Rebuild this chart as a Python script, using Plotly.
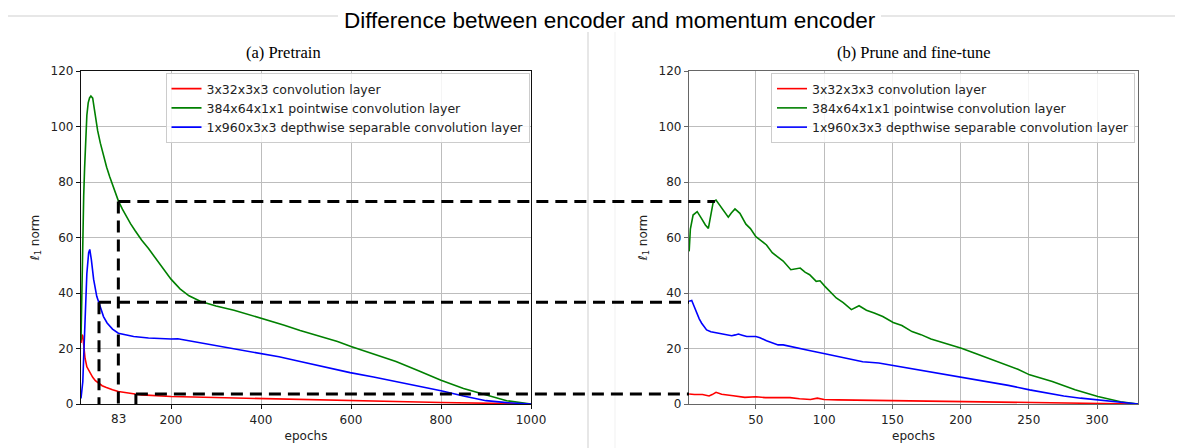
import plotly.graph_objects as go

# ---------------- data ----------------
series_names = ["3x32x3x3 convolution layer",
                "384x64x1x1 pointwise convolution layer",
                "1x960x3x3 depthwise separable convolution layer"]
series_colors = ["#ff0000", "#008000", "#0000ff"]

# (a) Pretrain
pre_red_epoch = [0, 2, 4, 6, 9, 13, 17, 21, 26, 32, 40, 47, 55, 62, 70, 83, 100, 120, 135, 160, 180, 200,
                 250, 300, 350, 400, 450, 487, 550, 600, 650, 700, 750, 800, 850, 900, 950, 1000]
pre_red_val = [22, 25, 24.5, 21, 16.5, 13.4, 12.2, 10.8, 9.6, 8.4, 7.3, 6.6, 6.0, 5.5, 5.1, 4.5, 4.0, 3.6, 3.3,
               3.0, 2.9, 2.7, 2.5, 2.3, 2.15, 2.0, 1.75, 1.5, 1.3, 1.15, 1.0, 0.85, 0.7, 0.55, 0.4, 0.25, 0.12, 0]

pre_green_epoch = [0, 2, 4, 6, 8, 10, 13, 16, 19, 22, 26, 29, 32, 37, 43, 50, 57, 64, 70, 77, 83, 92, 100, 110,
                   120, 135, 150, 165, 180, 200, 220, 240, 265, 300, 340, 375, 413, 450, 487, 530, 570, 600,
                   650, 700, 750, 800, 850, 900, 946, 1000]
pre_green_val = [23, 46, 63, 75, 85, 94, 104, 108.5, 110.3, 111, 110.2, 107, 103.5, 98.5, 94, 89.5, 85.3, 81.8,
                 79, 76, 73.2, 70.2, 67.8, 65, 62.5, 59, 56, 52.8, 49.2, 45, 41.5, 39, 37, 35.3, 33.8, 32.2,
                 30.4, 28.5, 26.5, 24.5, 22.5, 20.7, 18, 15.3, 12, 8.6, 5.6, 3.2, 1.2, 0]

pre_blue_epoch = [0, 2, 4, 6, 9, 13, 17, 19.5, 23, 28, 35, 43, 50, 58, 70, 83, 100, 117, 150, 175, 200, 215,
                  240, 265, 300, 330, 365, 400, 440, 487, 550, 598, 650, 700, 750, 800, 850, 900, 946, 1000]
pre_blue_val = [2, 6, 8, 17, 32, 47, 54.5, 55.7, 52, 45, 38.8, 34.6, 31.5, 29.2, 27, 25.5, 24.8, 24.3, 23.8,
                23.5, 23.4, 23.5, 22.8, 21.9, 21.1, 20.3, 19.3, 18.3, 17, 15.3, 13, 11.3, 9.7, 8.1, 6.4, 4.8,
                2.9, 1.2, 0.5, 0]

# (b) Prune and fine-tune
ft_red_epoch = [1.1, 5, 10.9, 15.7, 18, 20.8, 24.9, 29, 33.4, 41.9, 50, 57, 65, 75, 82, 90, 95, 100, 110, 125,
                150, 175, 200, 230, 262, 300, 330.3]
ft_red_val = [3.6, 3.4, 3.4, 2.9, 3.4, 4.2, 3.5, 3.3, 3.0, 2.4, 2.6, 2.3, 2.2, 2.3, 1.9, 1.6, 2.1, 1.6, 1.5,
              1.4, 1.2, 1.0, 0.8, 0.6, 0.45, 0.25, 0]

ft_green_epoch = [1.1, 2, 4, 7, 10, 13, 15.2, 17, 18.8, 20.8, 23, 26.1, 29.8, 32, 34.7, 38.3, 42.7, 46, 50, 54,
                  57.8, 62, 66.3, 70, 75.6, 79, 82.5, 86, 89.4, 94.2, 97, 100.6, 105, 108.9, 114, 120, 125.6,
                  131, 136.7, 143, 150.6, 157, 164.4, 171, 178.3, 190, 200.6, 210, 220, 233.9, 242, 250.6,
                  267.2, 283.9, 300.6, 317.2, 330.3]
ft_green_val = [55, 63, 68.1, 69.3, 67, 64.5, 63.3, 67.5, 72.9, 73.5, 72, 69.9, 67.3, 68.8, 70.3, 68.7, 64.8,
                63.2, 60.3, 58.8, 57.3, 54.5, 52.7, 51.5, 48.4, 48.6, 49, 47.5, 46.6, 44.2, 44.4, 42.4, 40.2,
                38.2, 36.5, 34, 35.4, 33.8, 32.8, 31.5, 29.4, 28.3, 26.1, 25, 23.4, 21.7, 20.1, 18.4, 16.5,
                14.1, 12.5, 10.5, 8.1, 5.1, 2.7, 0.8, 0]

ft_blue_epoch = [1.1, 3, 4.5, 6.6, 8.5, 10.3, 12, 13.9, 17, 20, 24, 28.5, 32.3, 35, 37.2, 40, 43.3, 50, 53,
                 57.8, 62, 66.3, 70, 76, 83.9, 90, 100.6, 108, 117.2, 128.3, 140, 150.6, 167.2, 185, 200.6,
                 220, 235, 250.6, 262, 275.6, 288, 300.6, 315, 330.3]
ft_blue_val = [37, 37.3, 35.5, 32.7, 30.7, 29.1, 27.8, 26.7, 26, 25.7, 25.4, 25.1, 24.6, 24.9, 25.2, 24.8,
               24.3, 24.3, 23.9, 22.8, 22.1, 21.3, 21.3, 20.6, 19.9, 19.2, 18.1, 17.3, 16.5, 15.2, 14.8, 13.9,
               12.3, 11, 9.6, 8, 6.7, 5.1, 4.0, 2.9, 2.1, 1.4, 0.7, 0]

# connectors: pretrain point (epoch, value) -> fine-tune epoch at same value
link_pre_epoch = [83, 40, 122]
link_value = [73, 36.7, 3.6]
link_ft_epoch = [20, 1, 1]

pre_xticks = [200, 400, 600, 800, 1000]
ft_xticks = [50, 100, 150, 200, 250, 300]
y_ticks = [0, 20, 40, 60, 80, 100, 120]
marked_epoch_label = "83"

# ---------------- layout geometry (page pixels; the page body adds an 8px offset) ----------------
OFF = 8
W, H = 1183 - OFF, 448 - OFF
ML, MR, MT, MB = 81 - OFF, 45, 71 - OFF, 44
PW, PH = W - ML - MR, H - MT - MB
dom_a = [0.0, (531 - 81) / PW]
dom_b = [(689 - 81) / PW, 1.0]
range_a = [0, 1000]
range_b = [1, 330]
y_range = [0, 120]


def px_x(p):
    """page pixel -> paper x"""
    return (p - 81) / PW


def px_y(p):
    """page pixel -> paper y"""
    return (404 - p) / PH


def paper_x(epoch, dom, rng):
    return dom[0] + (epoch - rng[0]) / (rng[1] - rng[0]) * (dom[1] - dom[0])


tick_font = dict(family="DejaVu Sans", size=12, color="#222")
serif = dict(family="Liberation Serif, Times New Roman", size=16.5, color="black")

fig = go.Figure()
pre = [(pre_red_epoch, pre_red_val), (pre_green_epoch, pre_green_val), (pre_blue_epoch, pre_blue_val)]
ft = [(ft_red_epoch, ft_red_val), (ft_green_epoch, ft_green_val), (ft_blue_epoch, ft_blue_val)]
for i, (ex, vy) in enumerate(pre):
    fig.add_trace(go.Scatter(x=ex, y=vy, mode="lines", name=series_names[i],
                             line=dict(color=series_colors[i], width=1.6),
                             xaxis="x", yaxis="y", legend="legend"))
for i, (ex, vy) in enumerate(ft):
    fig.add_trace(go.Scatter(x=ex, y=vy, mode="lines", name=series_names[i],
                             line=dict(color=series_colors[i], width=1.6),
                             xaxis="x2", yaxis="y2", legend="legend2"))

shapes = []
dash = dict(color="black", width=3, dash="12px,7px")
for e_pre, v, e_ft in zip(link_pre_epoch, link_value, link_ft_epoch):
    shapes.append(dict(type="line", xref="paper", yref="y",
                       x0=paper_x(e_pre, dom_a, range_a), x1=paper_x(e_ft, dom_b, range_b),
                       y0=v, y1=v, line=dash))
    shapes.append(dict(type="line", xref="x", yref="y", x0=e_pre, x1=e_pre, y0=v, y1=0, line=dash))

# light page frame lines (the top rule is interrupted by the title)
frame = dict(color="#cfcfcf", width=1)
shapes.append(dict(type="line", xref="paper", yref="paper", x0=px_x(8), x1=px_x(338), y0=px_y(16),
                   y1=px_y(16), line=frame, layer="below"))
shapes.append(dict(type="line", xref="paper", yref="paper", x0=px_x(881), x1=px_x(1183), y0=px_y(16),
                   y1=px_y(16), line=frame, layer="below"))
shapes.append(dict(type="line", xref="paper", yref="paper", x0=px_x(588), x1=px_x(588), y0=px_y(32),
                   y1=px_y(448), line=frame, layer="below"))
shapes.append(dict(type="line", xref="paper", yref="paper", x0=px_x(615), x1=px_x(615), y0=px_y(32),
                   y1=px_y(448), line=dict(color="#f1f1f1", width=1), layer="below"))

annotations = [
    dict(text="Difference between encoder and momentum encoder", xref="paper", yref="paper",
         x=px_x(610), y=px_y(20.5), xanchor="center", yanchor="middle", showarrow=False, borderpad=0,
         font=dict(family="Liberation Sans, Arial", size=22.5, color="black")),
    dict(text="(a) Pretrain", xref="paper", yref="paper", x=px_x(283), y=px_y(52),
         xanchor="center", yanchor="middle", showarrow=False, font=serif),
    dict(text="(b) Prune and fine-tune", xref="paper", yref="paper", x=(dom_b[0] + dom_b[1]) / 2, y=px_y(52),
         xanchor="center", yanchor="middle", showarrow=False, font=serif),
    dict(text=marked_epoch_label, xref="x", yref="paper", x=link_pre_epoch[0], y=px_y(419),
         xanchor="center", yanchor="middle", showarrow=False, font=tick_font),
]

axis_common = dict(showgrid=True, gridcolor="#bdbdbd", gridwidth=1, zeroline=False, showline=True,
                   mirror=True, ticks="outside", ticklen=4, tickfont=tick_font, automargin=False)

legend_common = dict(font=dict(family="DejaVu Sans", size=12.5, color="#222"),
                     bgcolor="rgba(255,255,255,0.85)", bordercolor="#cccccc", borderwidth=1,
                     yanchor="top", y=px_y(73), xanchor="right", tracegroupgap=0)

fig.update_layout(
    width=W, height=H, margin=dict(l=ML, r=MR, t=MT, b=MB),
    paper_bgcolor="white", plot_bgcolor="white",
    xaxis=dict(domain=dom_a, range=range_a, tickvals=pre_xticks, anchor="y",
               linecolor="#111", linewidth=1.2, tickcolor="#111",
               title=dict(text="epochs", font=tick_font, standoff=6), **axis_common),
    yaxis=dict(domain=[0, 1], range=y_range, tickvals=y_ticks, anchor="x",
               linecolor="#111", linewidth=1.2, tickcolor="#111",
               title=dict(text="<i>ℓ</i><sub>1</sub> norm", font=tick_font, standoff=8), **axis_common),
    xaxis2=dict(domain=dom_b, range=range_b, tickvals=ft_xticks, anchor="y2",
                linecolor="#666", linewidth=1.2, tickcolor="#666",
                title=dict(text="epochs", font=tick_font, standoff=6), **axis_common),
    yaxis2=dict(domain=[0, 1], range=y_range, tickvals=y_ticks, anchor="x2",
                linecolor="#666", linewidth=1.2, tickcolor="#666",
                title=dict(text="<i>ℓ</i><sub>1</sub> norm", font=tick_font, standoff=8), **axis_common),
    legend=dict(x=dom_a[1] - 1.5 / PW, **legend_common),
    legend2=dict(x=dom_b[1] - 3 / PW, **legend_common),
    shapes=shapes, annotations=annotations, showlegend=True,
)

fig.write_html("out.html")
